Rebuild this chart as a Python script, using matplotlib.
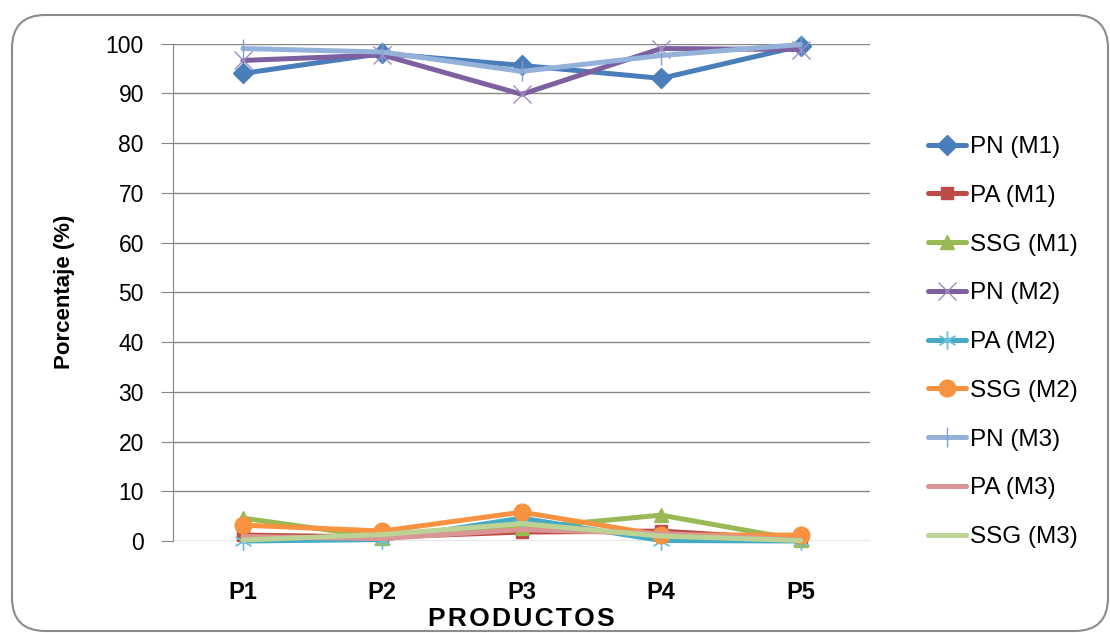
import matplotlib
matplotlib.use("Agg")
import matplotlib.pyplot as plt
from matplotlib.patches import FancyBboxPatch

plt.rcParams['font.family'] = ['Liberation Sans', 'DejaVu Sans']

productos = ["P1", "P2", "P3", "P4", "P5"]

pn_m1 = [94.0, 98.0, 95.6, 93.0, 99.5]
pa_m1 = [1.2, 0.8, 1.8, 2.0, 0.3]
ssg_m1 = [4.6, 0.7, 2.6, 5.2, 0.2]
pn_m2 = [96.6, 97.7, 89.8, 99.0, 98.8]
pa_m2 = [0.0, 0.3, 4.6, 0.1, 0.0]
ssg_m2 = [3.2, 2.0, 5.8, 1.2, 1.2]
pn_m3 = [99.0, 98.3, 94.4, 97.6, 99.8]
pa_m3 = [0.9, 0.5, 2.3, 1.5, 0.2]
ssg_m3 = [0.2, 1.3, 3.5, 1.0, 0.1]

series = [
    ("PN (M1)", pn_m1, "#4A7EBB", dict(marker="D", markersize=10)),
    ("PA (M1)", pa_m1, "#BE4B48", dict(marker="s", markersize=9)),
    ("SSG (M1)", ssg_m1, "#98B954", dict(marker="^", markersize=10)),
    ("PN (M2)", pn_m2, "#7D60A0", dict(marker="x", markersize=13,
                                        markeredgewidth=1.0, markeredgecolor="#A08CC0")),
    ("PA (M2)", pa_m2, "#46AAC5", dict(marker=(6, 2, 0), markersize=13,
                                        markeredgewidth=1.0, markeredgecolor="#6CC0D8")),
    ("SSG (M2)", ssg_m2, "#F69240", dict(marker="o", markersize=12)),
    ("PN (M3)", pn_m3, "#94B1DA", dict(marker="|", markersize=15,
                                        markeredgewidth=1.0, markeredgecolor="#7F9FCF")),
    ("PA (M3)", pa_m3, "#D99694", dict(marker=None)),
    ("SSG (M3)", ssg_m3, "#BCD395", dict(marker=None)),
]

fig = plt.figure(figsize=(11.1, 6.33), dpi=100)
ax = fig.add_axes([0.156, 0.1453, 0.628, 0.7859])

# rounded chart frame
frame = FancyBboxPatch((12 / 1110, 2 / 633), 1096 / 1110, 616 / 633,
                       boxstyle="round,pad=0,rounding_size=0.03",
                       transform=fig.transFigure, facecolor="none",
                       edgecolor="#8C8C8C", linewidth=1.5, zorder=0,
                       mutation_aspect=1110 / 633)
fig.patches.append(frame)

x = list(range(len(productos)))
for label, vals, color, mk in series:
    kw = dict(mk)
    if kw.get("marker") is not None and "markeredgecolor" not in kw:
        kw["markeredgecolor"] = color
    if kw.get("marker") is not None:
        kw.setdefault("markerfacecolor", color)
    ax.plot(x, vals, color=color, linewidth=3.6, label=label,
            solid_capstyle="round", solid_joinstyle="round", clip_on=False, **kw)

ax.set_xlim(-0.5, 4.5)
ax.set_ylim(0, 100)
ax.set_yticks(range(0, 101, 10))
ax.set_xticks(x)
ax.set_xticklabels(productos, fontweight="bold", fontsize=17)
ax.tick_params(axis="x", length=0, pad=29)
ax.tick_params(axis="y", length=9, color="#868686", labelsize=16.5, pad=12)
ax.yaxis.grid(True, color="#868686", linewidth=1.0)
ax.set_axisbelow(True)
for s in ["top", "right", "bottom"]:
    ax.spines[s].set_visible(False)
ax.spines["left"].set_color("#868686")

ax.set_ylabel("Porcentaje (%)", fontsize=16, fontweight="bold", labelpad=22)
ax.set_xlabel("P\u200aR\u200aO\u200aD\u200aU\u200aC\u200aT\u200aO\u200aS",
              fontsize=19, fontweight="bold", labelpad=2)

fig.legend(loc="center left", bbox_to_anchor=(0.836, 0.4597), frameon=False,
           fontsize=17.5, handlelength=1.55, handletextpad=0.2, labelspacing=1.1,
           borderaxespad=0, borderpad=0, numpoints=1)

fig.savefig("out.png", dpi=100)
